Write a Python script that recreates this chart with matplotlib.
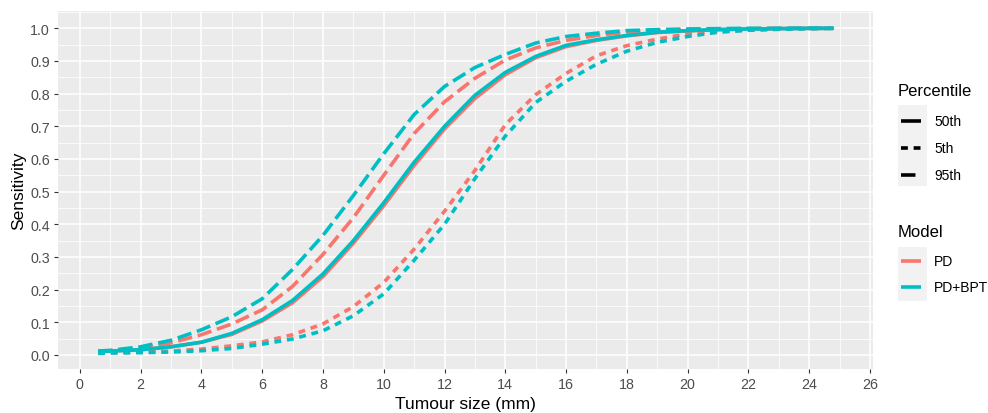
import matplotlib
matplotlib.use("Agg")
import matplotlib.pyplot as plt
from matplotlib.lines import Line2D
from matplotlib.patches import Rectangle
from matplotlib.ticker import MultipleLocator

plt.rcParams['font.family'] = ['Liberation Sans', 'DejaVu Sans']

# ---- data ----
tumour_size = [0.6, 1, 2, 3, 4, 5, 6, 7, 8, 9, 10, 11, 12, 13, 14, 15, 16, 17, 18, 19, 20, 21, 22, 23, 24, 24.8]

pd_50 = [0.011, 0.012, 0.016, 0.025, 0.039, 0.063, 0.104, 0.160, 0.240, 0.342, 0.457, 0.580, 0.692, 0.785,
         0.858, 0.910, 0.944, 0.963, 0.977, 0.987, 0.992, 0.996, 0.998, 0.999, 1.000, 1.000]
pd_5 = [0.006, 0.007, 0.009, 0.012, 0.018, 0.028, 0.040, 0.062, 0.095, 0.148, 0.222, 0.324, 0.440, 0.565,
        0.705, 0.797, 0.862, 0.916, 0.947, 0.967, 0.983, 0.990, 0.995, 0.998, 0.999, 1.000]
pd_95 = [0.011, 0.013, 0.021, 0.037, 0.062, 0.095, 0.138, 0.210, 0.308, 0.420, 0.550, 0.678, 0.775, 0.847,
         0.903, 0.940, 0.963, 0.978, 0.988, 0.993, 0.996, 0.998, 0.999, 1.000, 1.000, 1.000]

bpt_50 = [0.011, 0.012, 0.016, 0.025, 0.039, 0.066, 0.108, 0.167, 0.248, 0.350, 0.466, 0.590, 0.700, 0.795,
          0.865, 0.914, 0.948, 0.965, 0.978, 0.988, 0.993, 0.996, 0.998, 0.999, 1.000, 1.000]
bpt_5 = [0.005, 0.006, 0.007, 0.009, 0.013, 0.020, 0.033, 0.049, 0.074, 0.120, 0.187, 0.290, 0.400, 0.540,
         0.670, 0.773, 0.838, 0.890, 0.930, 0.957, 0.975, 0.988, 0.994, 0.997, 0.999, 1.000]
bpt_95 = [0.012, 0.014, 0.025, 0.045, 0.077, 0.117, 0.172, 0.262, 0.366, 0.488, 0.616, 0.736, 0.822, 0.880,
          0.920, 0.955, 0.975, 0.985, 0.993, 0.996, 0.998, 0.999, 1.000, 1.000, 1.000, 1.000]

models = ["PD", "PD+BPT"]
percentiles = ["50th", "5th", "95th"]
model_colors = {"PD": "#F8766D", "PD+BPT": "#00BFC4"}

x_ticks = list(range(0, 27, 2))
y_ticks = [i / 10 for i in range(11)]

series = {
    ("PD", "50th"): pd_50, ("PD", "5th"): pd_5, ("PD", "95th"): pd_95,
    ("PD+BPT", "50th"): bpt_50, ("PD+BPT", "5th"): bpt_5, ("PD+BPT", "95th"): bpt_95,
}

LW = 2.6
dash_styles = {"50th": None, "5th": (1.9, 1.6), "95th": (4.0, 1.6)}

W, H = 988, 414
fig = plt.figure(figsize=(W / 100, H / 100), dpi=100)
ax = fig.add_axes([58 / W, 1 - 370 / H, (873 - 58) / W, (370 - 12) / H])
ax.set_facecolor("#EBEBEB")

for m in models:
    for p in percentiles:
        kw = dict(color=model_colors[m], lw=LW, solid_capstyle="butt", dash_capstyle="butt", zorder=3)
        line, = ax.plot(tumour_size, series[(m, p)], **kw)
        if dash_styles[p] is not None:
            line.set_dashes(dash_styles[p])

ax.set_xlim(-0.72, 26.1)
ax.set_ylim(-0.043, 1.053)
ax.set_xticks(x_ticks)
ax.set_yticks(y_ticks)
ax.set_yticklabels([f"{v:.1f}" for v in y_ticks])
ax.xaxis.set_minor_locator(MultipleLocator(1))
ax.yaxis.set_minor_locator(MultipleLocator(0.05))
ax.grid(which="major", color="white", lw=1.1, zorder=0)
ax.grid(which="minor", color="white", lw=0.55, zorder=0)
ax.set_axisbelow(True)
for s in ax.spines.values():
    s.set_visible(False)
ax.tick_params(which="major", length=3.2, width=0.8, color="#333333", labelcolor="#4D4D4D",
               labelsize=10.3, pad=2.5)
ax.tick_params(which="minor", length=0)
ax.set_xlabel("Tumour size (mm)", fontsize=12.5, color="black", labelpad=4)
ax.set_ylabel("Sensitivity", fontsize=12.5, color="black", labelpad=3)

# ---- legends (drawn in figure pixel coordinates) ----
def fx(px):
    return px / W

def fy(py):
    return 1 - py / H

fig.text(fx(898), fy(92), "Percentile", fontsize=12, va="center", ha="left")
fig.add_artist(Rectangle((fx(898), fy(187)), fx(29), (187 - 106) / H, transform=fig.transFigure,
                         facecolor="#F2F2F2", edgecolor="none"))
for p, yy in zip(percentiles, [122, 149, 176]):
    ln = Line2D([fx(901), fx(921)], [fy(yy), fy(yy)], transform=fig.transFigure, color="black",
                lw=LW, solid_capstyle="butt", dash_capstyle="butt")
    if dash_styles[p] is not None:
        ln.set_dashes(dash_styles[p])
    fig.add_artist(ln)
    fig.text(fx(934), fy(yy), p, fontsize=10, va="center", ha="left")

fig.text(fx(898), fy(233), "Model", fontsize=12, va="center", ha="left")
fig.add_artist(Rectangle((fx(898), fy(302)), fx(29), (302 - 248) / H, transform=fig.transFigure,
                         facecolor="#F2F2F2", edgecolor="none"))
for m, yy in zip(models, [262, 288]):
    ln = Line2D([fx(901), fx(921)], [fy(yy), fy(yy)], transform=fig.transFigure,
                color=model_colors[m], lw=LW, solid_capstyle="butt")
    fig.add_artist(ln)
    fig.text(fx(934), fy(yy), m, fontsize=10, va="center", ha="left")

fig.savefig("out.png", dpi=100, facecolor="white")
